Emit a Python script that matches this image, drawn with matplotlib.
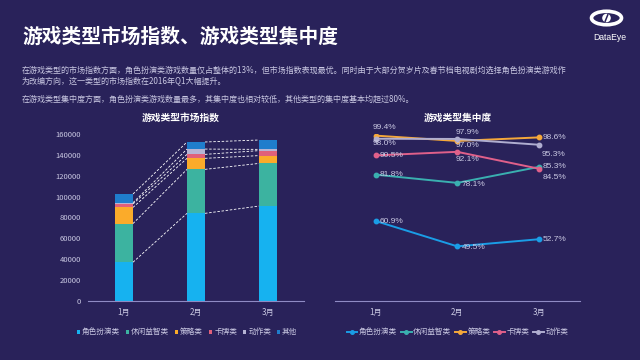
import matplotlib
matplotlib.use("Agg")
import matplotlib.pyplot as plt
from matplotlib.patches import Ellipse, Circle
import numpy as np

plt.rcParams['font.family'] = ['Noto Sans CJK SC', 'DejaVu Sans']

# ---------------- data ----------------
months = ["1月", "2月", "3月"]
bar_series = ["角色扮演类", "休闲益智类", "策略类", "卡牌类", "动作类", "其他"]
role_play = [37000, 84000, 91000]
casual = [37200, 42300, 41000]
strategy = [15500, 10600, 7500]
card = [3300, 3800, 4800]
action = [1200, 5100, 1200]
other = [8400, 6800, 9000]

line_series = ["角色扮演类", "休闲益智类", "策略类", "卡牌类", "动作类"]
conc_role = [60.9, 49.5, 52.7]
conc_casual = [81.8, 78.1, 85.3]
conc_strategy = [99.4, 97.0, 98.6]
conc_card = [90.5, 92.1, 84.5]
conc_action = [98.0, 97.9, 95.3]

yticks_left = [0, 20000, 40000, 60000, 80000, 100000, 120000, 140000, 160000]

title = "游戏类型市场指数、游戏类型集中度"
body = ["在游戏类型的市场指数方面，角色扮演类游戏数量仅占整体的13%，但市场指数表现最优。同时由于大部分贺岁片及春节档电视剧均选择角色扮演类游戏作",
        "为改编方向，这一类型的市场指数在2016年Q1大幅提升。",
        "在游戏类型集中度方面，角色扮演类游戏数量最多，其集中度也相对较低，其他类型的集中度基本均超过80%。"]
left_title = "游戏类型市场指数"
right_title = "游戏类型集中度"

# ---------------- style ----------------
BG = "#29225a"
TXT = "#c9c8e2"
AXC = "#8f8bc4"
bar_colors = ["#16b2f0", "#3cb3a0", "#fbab2a", "#e0607a", "#b6b4d4", "#1f7dcc"]
line_colors = ["#1a9de6", "#3ab0b0", "#f5a83a", "#e0608a", "#b0aed0"]

fig = plt.figure(figsize=(6.4, 3.6), dpi=100, facecolor=BG)

# header
fig.text(22/640, 1-37/360, title, color="white", fontsize=14.2, fontweight="bold", va="center", ha="left")
for ln, yy in zip(body, [70, 81.6, 99]):
    fig.text(22/640, 1-yy/360, ln, color=TXT, fontsize=5.8, va="center", ha="left")

# logo
lax = fig.add_axes([586/640, 1-30/360, 41/640, 24/360])
lax.set_xlim(0, 41); lax.set_ylim(0, 24); lax.axis("off")
lax.add_patch(Ellipse((20.5, 12), 30, 13.5, fill=False, ec="white", lw=2.6))
lax.add_patch(Circle((20.5, 12), 4.3, fc="white", ec="none"))
lax.plot([19.2, 21.8], [8.8, 15.2], color=BG, lw=1.1)
fig.text(610/640, 1-37/360, "DataEye", color="white", fontsize=6.2, ha="center", va="center",
         family=["Liberation Sans", "DejaVu Sans"])

# ---------------- left: stacked bars ----------------
axL = fig.add_axes([88/640, 1-300.7/360, 216/640, 166.4/360])
axL.set_facecolor(BG)
x = np.arange(len(months))
stack = [role_play, casual, strategy, card, action, other]
bottom = np.zeros(3)
tops = []
w = 0.25
for vals, c, name in zip(stack, bar_colors, bar_series):
    axL.bar(x, vals, w, bottom=bottom, color=c, label=name, zorder=2)
    bottom = bottom + np.array(vals)
    tops.append(bottom.copy())
for t in tops:
    for i in range(2):
        axL.plot([x[i] + w/2, x[i+1] - w/2], [t[i], t[i+1]], color="white", lw=0.6, ls=(0, (3, 2)), zorder=3)
axL.set_xlim(-0.5, 2.5)
axL.set_ylim(0, 160000)
axL.set_yticks(yticks_left)
axL.set_yticklabels([str(v) for v in yticks_left])
axL.set_xticks(x)
axL.set_xticklabels(months)
axL.tick_params(axis="y", length=0, colors=TXT, labelsize=5.5, pad=5)
axL.tick_params(axis="x", length=0, colors=TXT, labelsize=5.8, pad=5)
for s in ["top", "right", "left"]:
    axL.spines[s].set_visible(False)
axL.spines["bottom"].set_color(AXC)
axL.spines["bottom"].set_linewidth(0.8)
fig.text(181/640, 1-118/360, left_title, color="white", fontsize=7, fontweight="bold", ha="center", va="center")
axL.legend(loc="center left", bbox_to_anchor=(-0.085, -0.19), ncol=6, frameon=False,
           fontsize=5.5, handlelength=0.45, handleheight=0.45, handletextpad=0.25,
           columnspacing=0.75, labelcolor=TXT)

# ---------------- right: lines ----------------
axR = fig.add_axes([335/640, 1-300.7/360, 244.5/640, 166.4/360])
axR.set_facecolor(BG)
series = [conc_role, conc_casual, conc_strategy, conc_card, conc_action]
# label offsets (points)
offsets = [
    [(3, 0), (3, -1), (3, 0)],
    [(3, 0), (3, -1), (3, 0)],
    [(-2, 5.5), (-1, -3.6), (3, 0)],
    [(3, 0), (-1, -5.8), (3, -6)],
    [(-2, -3.6), (-1, 5), (2, -7)],
]
for vals, c, name, offs in zip(series, line_colors, line_series, offsets):
    axR.plot(x, vals, color=c, lw=1.4, marker="o", ms=3.2, label=name, zorder=3)
    for xi, v, (dx, dy) in zip(x, vals, offs):
        axR.annotate(f"{v:.1f}%", (xi, v), xytext=(dx, dy), textcoords="offset points",
                     color=TXT, fontsize=6, ha="left", va="center",
                     family=["Liberation Sans", "DejaVu Sans"], zorder=4)
axR.set_xlim(-0.5, 2.5)
axR.set_ylim(25, 100)
axR.set_yticks([])
axR.set_xticks(x)
axR.set_xticklabels(months)
axR.tick_params(axis="x", length=0, colors=TXT, labelsize=5.8, pad=5)
for s in ["top", "right", "left"]:
    axR.spines[s].set_visible(False)
axR.spines["bottom"].set_color(AXC)
axR.spines["bottom"].set_linewidth(0.8)
fig.text(457.5/640, 1-118/360, right_title, color="white", fontsize=7, fontweight="bold", ha="center", va="center")
axR.legend(loc="center left", bbox_to_anchor=(0.02, -0.19), ncol=5, frameon=False,
           fontsize=5.5, handlelength=1.4, handletextpad=0.2,
           columnspacing=0.5, labelcolor=TXT, markerscale=0.8)

fig.savefig("out.png", dpi=100, facecolor=BG)
